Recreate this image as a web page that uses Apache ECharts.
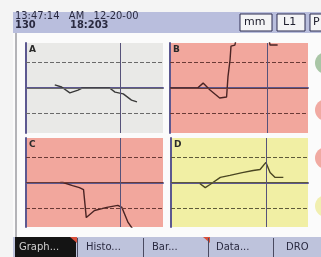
<!DOCTYPE html>
<html>
<head>
<meta charset="utf-8">
<script src="https://cdn.jsdelivr.net/npm/echarts@6/dist/echarts.min.js"></script>
<style>
    html, body { margin: 0; padding: 0; background: #f6f6f6; }
    #main { width: 321px; height: 257px; }
</style>
</head>
<body>
<div id="main"></div>
<script type="text/javascript">
    // panel data, x in 0..100 across the panel, y in units of the dashed gridlines
    var panelNames = ['A', 'B', 'C', 'D'];
    var aX = [21, 26, 32, 38, 41, 61, 65, 71, 77, 81];
    var aY = [0.12, 0.04, -0.19, -0.08, 0, 0, -0.16, -0.23, -0.47, -0.54];
    var bX = [0, 20, 24, 29, 36, 41, 42, 43.5, 44.2, 47, 50, 70, 72.5, 78];
    var bY = [0, 0, 0.19, -0.08, -0.39, -0.35, 0.43, 1.09, 1.63, 1.67, 2.4, 2.4, 1.67, 1.67];
    var cX = [25, 27, 34, 39, 42, 44, 45, 50, 59, 67, 70, 74.5, 77.5];
    var cY = [0, 0, -0.12, -0.2, -0.28, -1.38, -1.38, -1.1, -0.98, -0.9, -0.98, -1.57, -1.8];
    var dX = [21, 25, 28.5, 36, 43, 52, 60, 65, 69.3, 72.3, 76, 82];
    var dY = [-0.04, -0.2, -0.08, 0.2, 0.28, 0.39, 0.47, 0.51, 0.79, 0.39, 0.2, 0.2];
    var cursorX = [68.6, 70.3, 68.6, 69.3];
    var tabLabels = ['Graph...', 'Histo...', 'Bar...', 'Data...', 'DRO'];

    var panelX = [aX, bX, cX, dX];
    var panelY = [aY, bY, cY, dY];
    var panelBg = ['#e9e9e7', '#f2a79d', '#f2a79d', '#f1efa4'];
    var lineCol = ['#3a3a3a', '#4a2424', '#4a2424', '#4a4622'];
    var gridCol = ['#6a6a6a', '#6a3a36', '#6a3a36', '#5e5a3a'];
    var grids = [
        {left: 26, top: 43, width: 137, height: 90},
        {left: 170, top: 43, width: 138, height: 90},
        {left: 26, top: 138, width: 137, height: 89},
        {left: 171, top: 138, width: 137, height: 89}
    ];

    var myChart = echarts.init(document.getElementById('main'));
    var xAxes = [], yAxes = [], series = [], gridOpts = [];
    for (var i = 0; i < 4; i++) {
        gridOpts.push({
            left: grids[i].left, top: grids[i].top, width: grids[i].width, height: grids[i].height,
            show: true, backgroundColor: panelBg[i], borderWidth: 0
        });
        xAxes.push({
            type: 'value', gridIndex: i, min: 0, max: 100,
            axisLine: {show: true, lineStyle: {color: '#5c5890', width: 2}},
            axisTick: {show: false}, axisLabel: {show: false}, splitLine: {show: false}
        });
        yAxes.push({
            type: 'value', gridIndex: i, min: -1.75, max: 1.75,
            axisLine: {show: true, lineStyle: {color: '#5c5890', width: 2}},
            axisTick: {show: false}, axisLabel: {show: false}, splitLine: {show: false}
        });
        var pts = [];
        panelX[i].forEach(function (v, k) { pts.push([v, panelY[i][k]]); });
        series.push({
            type: 'line', xAxisIndex: i, yAxisIndex: i, data: pts,
            showSymbol: false, clip: true,
            lineStyle: {color: lineCol[i], width: 1.4},
            markLine: {
                silent: true, symbol: 'none', label: {show: false},
                data: [
                    {yAxis: 1, lineStyle: {type: [4, 2], color: gridCol[i], width: 1}},
                    {yAxis: 0, lineStyle: {type: 'solid', color: gridCol[i], width: 1.2}},
                    {yAxis: -1, lineStyle: {type: [4, 2], color: gridCol[i], width: 1}},
                    {xAxis: cursorX[i], lineStyle: {type: 'solid', color: '#56527a', width: 1}}
                ]
            }
        });
    }

    var graphics = [
        // page outside the screen
        {type: 'rect', shape: {x: 0, y: 0, width: 13, height: 257}, style: {fill: '#f4f4f4'}},
        {type: 'rect', shape: {x: 0, y: 0, width: 321, height: 12}, style: {fill: '#f4f4f4'}},
        {type: 'rect', shape: {x: 15, y: 33, width: 2, height: 204}, style: {fill: '#b4b4b8'}},
        // header
        {type: 'rect', shape: {x: 13, y: 12, width: 308, height: 21}, style: {fill: '#b9bedd'}},
        {type: 'text', left: 15, top: 11, style: {text: '13:47:14   AM   12-20-00', fill: '#2a2a40', font: '11px "DejaVu Sans Condensed", sans-serif'}},
        {type: 'text', left: 15, top: 20, style: {text: '130          18:203', fill: '#2a2a40', font: 'bold 11px "DejaVu Sans Condensed", sans-serif'}},
        {type: 'rect', shape: {x: 240, y: 14, width: 32, height: 17}, style: {fill: '#f4f4f6', stroke: '#2c2c50', lineWidth: 1}},
        {type: 'text', left: 244, top: 17, style: {text: 'mm', fill: '#202030', font: '11px "DejaVu Sans", sans-serif'}},
        {type: 'rect', shape: {x: 277, y: 14, width: 28, height: 17}, style: {fill: '#f4f4f6', stroke: '#2c2c50', lineWidth: 1}},
        {type: 'text', left: 283, top: 17, style: {text: 'L1', fill: '#202030', font: '11px "DejaVu Sans", sans-serif'}},
        {type: 'rect', shape: {x: 310, y: 14, width: 20, height: 17}, style: {fill: '#f4f4f6', stroke: '#2c2c50', lineWidth: 1}},
        {type: 'text', left: 313, top: 17, style: {text: 'P', fill: '#202030', font: '11px "DejaVu Sans", sans-serif'}},
        // side buttons
        {type: 'circle', shape: {cx: 326, cy: 63, r: 11}, style: {fill: '#a9c6a6'}},
        {type: 'circle', shape: {cx: 326, cy: 110, r: 11}, style: {fill: '#f1aaa2'}},
        {type: 'circle', shape: {cx: 326, cy: 158, r: 11}, style: {fill: '#f1aaa2'}},
        {type: 'circle', shape: {cx: 326, cy: 206, r: 11}, style: {fill: '#f1efb0'}},
        // tab bar
        {type: 'rect', shape: {x: 13, y: 237, width: 308, height: 20}, style: {fill: '#bec3dc'}},
        {type: 'rect', shape: {x: 15, y: 237, width: 61, height: 20}, style: {fill: '#141414'}},
        {type: 'polygon', shape: {points: [[70, 237], [77, 237], [77, 243]]}, style: {fill: '#d8503c'}},
        {type: 'polygon', shape: {points: [[203, 237], [210, 237], [210, 243]]}, style: {fill: '#d8503c'}}
    ];
    var tabSep = [77, 143, 208, 273];
    tabSep.forEach(function (x) {
        graphics.push({type: 'rect', shape: {x: x, y: 238, width: 1, height: 19}, style: {fill: '#4a4a60'}});
    });
    var tabX = [19, 86, 152, 216, 286];
    tabLabels.forEach(function (t, k) {
        graphics.push({type: 'text', left: tabX[k], top: 242, style: {
            text: t, fill: k === 0 ? '#d0d0d0' : '#2a2a40', font: '10px "DejaVu Sans", sans-serif'}});
    });
    panelNames.forEach(function (n, k) {
        graphics.push({type: 'text', left: grids[k].left + 3, top: grids[k].top + 2, z: 100, style: {
            text: n, fill: '#2a2a2a', font: 'bold 9px "DejaVu Sans", sans-serif'}});
    });

    var option = {
        animation: false,
        backgroundColor: '#fbfbfb',
        grid: gridOpts,
        xAxis: xAxes,
        yAxis: yAxes,
        series: series,
        graphic: {elements: graphics}
    };
    myChart.setOption(option);
</script>
</body>
</html>
